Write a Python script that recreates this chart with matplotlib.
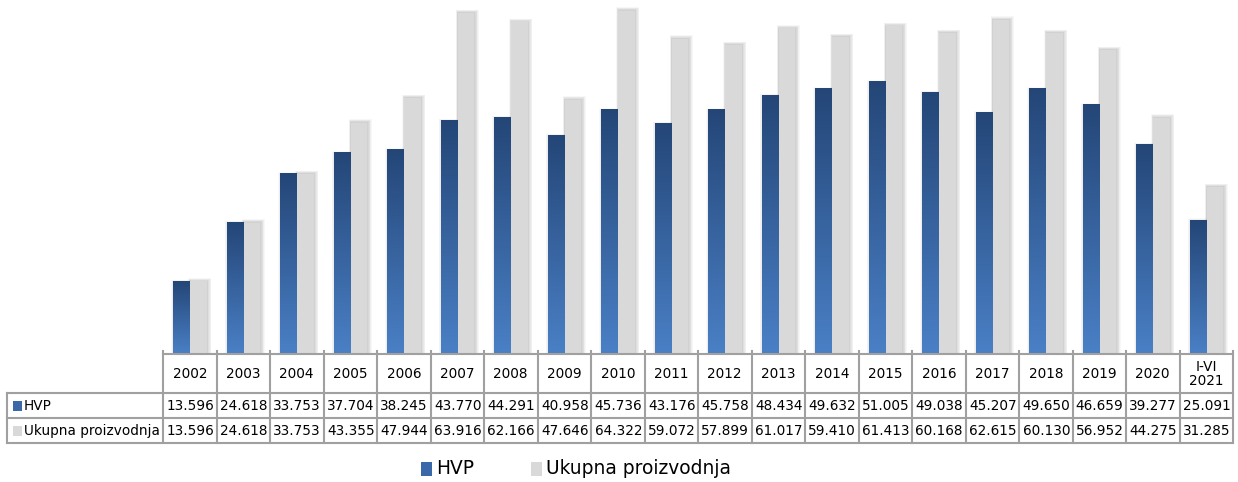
import matplotlib
matplotlib.use('Agg')
import matplotlib.pyplot as plt
import numpy as np
from matplotlib.colors import LinearSegmentedColormap
from matplotlib.patches import Rectangle
from matplotlib.lines import Line2D

categories = ['2002', '2003', '2004', '2005', '2006', '2007', '2008', '2009', '2010',
              '2011', '2012', '2013', '2014', '2015', '2016', '2017', '2018', '2019',
              '2020', 'I-VI\n2021']
hvp = [13.596, 24.618, 33.753, 37.704, 38.245, 43.770, 44.291, 40.958, 45.736, 43.176,
       45.758, 48.434, 49.632, 51.005, 49.038, 45.207, 49.650, 46.659, 39.277, 25.091]
ukupna = [13.596, 24.618, 33.753, 43.355, 47.944, 63.916, 62.166, 47.646, 64.322, 59.072,
          57.899, 61.017, 59.410, 61.413, 60.168, 62.615, 60.130, 56.952, 44.275, 31.285]
series_names = ['HVP', 'Ukupna proizvodnja']

W, H = 1238, 482
fig = plt.figure(figsize=(W / 100, H / 100), dpi=100)
ax = fig.add_axes([163 / W, (H - 354) / H, (1233 - 163) / W, 354 / H])
YMAX = 66.3
ax.set_xlim(-0.5, len(categories) - 0.5)
ax.set_ylim(0, YMAX)
ax.axis('off')

x = np.arange(len(categories))
bw = 0.31
blue_top = '#244677'
blue_bot = '#4a80c6'
grey = '#d9d9d9'
cmap = LinearSegmentedColormap.from_list('b', [blue_bot, blue_top])

# soft shadows behind bars
for k in range(1, 7):
    ax.bar(x + 0.165 + 0.004 * k, np.array(ukupna) + 0.1 * k, width=bw + 0.02 * k,
           color='black', alpha=0.03, linewidth=0, zorder=1)
for k in range(1, 4):
    ax.bar(x - 0.155 - 0.004 * k, np.array(hvp) + 0.1 * k, width=bw + 0.018 * k,
           color='black', alpha=0.025, linewidth=0, zorder=1)

gbars = ax.bar(x + 0.165, ukupna, width=bw, color=grey, linewidth=0, zorder=3)
bbars = ax.bar(x - 0.155, hvp, width=bw, color='none', linewidth=0, zorder=4)
grad = np.linspace(0, 1, 256).reshape(-1, 1)
for r in bbars:
    x0, y0 = r.get_x(), r.get_y()
    x1, y1 = x0 + r.get_width(), y0 + r.get_height()
    ax.imshow(grad, extent=[x0, x1, y0, y1], origin='lower', aspect='auto',
              cmap=cmap, zorder=4, interpolation='bilinear')
ax.set_xlim(-0.5, len(categories) - 0.5)
ax.set_ylim(0, YMAX)

# ---- data table ----
def fx(px):
    return px / W

def fy(py):
    return 1 - py / H

lc = '#a0a0a0'
lw = 1.5
col_edges = [ax.transData.transform((i - 0.5, 0))[0] for i in range(len(categories) + 1)]
y_top, y_h, y_r1, y_bot = 354, 393, 418, 443
left = 7

def line(xs, ys):
    fig.add_artist(Line2D([fx(v) for v in xs], [fy(v) for v in ys], color=lc, lw=lw))

line([col_edges[0], col_edges[-1]], [y_top, y_top])
for yy in (y_h, y_r1, y_bot):
    line([left, col_edges[-1]], [yy, yy])
for ce in col_edges:
    line([ce, ce], [y_top - 3, y_bot])
line([left, left], [y_h, y_bot])

fs = 9.8
for i, c in enumerate(categories):
    cx = (col_edges[i] + col_edges[i + 1]) / 2
    fig.text(fx(cx), fy(374), c, ha='center', va='center', fontsize=fs,
             linespacing=0.95, color='black')
    fig.text(fx(cx + 0.5), fy(406), f'{hvp[i]:.3f}', ha='center', va='center', fontsize=fs)
    fig.text(fx(cx + 0.5), fy(431), f'{ukupna[i]:.3f}', ha='center', va='center', fontsize=fs)

# row headers
fig.add_artist(Rectangle((fx(13), fy(411)), 9 / W, 10 / H, transform=fig.transFigure,
                         color='#3a68a8', lw=0))
fig.add_artist(Rectangle((fx(13), fy(436)), 9 / W, 10 / H, transform=fig.transFigure,
                         color=grey, lw=0))
fig.text(fx(24), fy(406), series_names[0], ha='left', va='center', fontsize=fs)
fig.text(fx(24), fy(431), series_names[1], ha='left', va='center', fontsize=fs)

# ---- legend ----
lfs = 13.4
fig.add_artist(Rectangle((fx(421), fy(476)), 11 / W, 14 / H, transform=fig.transFigure,
                         color='#3a68a8', lw=0))
fig.text(fx(436), fy(469), series_names[0], ha='left', va='center', fontsize=lfs)
fig.add_artist(Rectangle((fx(531), fy(476)), 11 / W, 14 / H, transform=fig.transFigure,
                         color=grey, lw=0))
fig.text(fx(546), fy(469), series_names[1], ha='left', va='center', fontsize=lfs)

fig.savefig('out.png', dpi=100)
